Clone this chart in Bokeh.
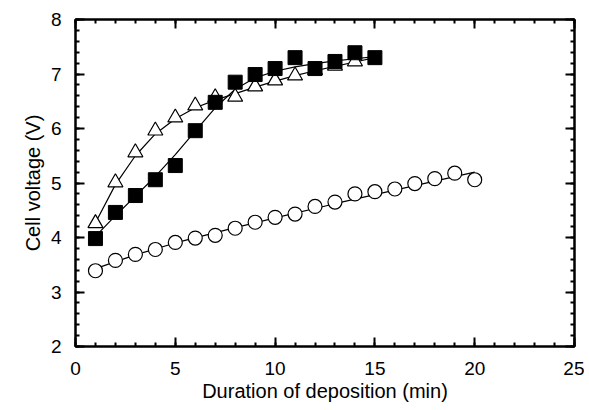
from bokeh.plotting import figure
from bokeh.models import LinearAxis, SingleIntervalTicker, Range1d, Title
from bokeh.embed import file_html
from bokeh.resources import INLINE

# Series: squares (filled), triangles (open), circles (open)
sq_x = [1, 2, 3, 4, 5, 6, 7, 8, 9, 10, 11, 12, 13, 14, 15]
sq_y = [3.98, 4.46, 4.77, 5.06, 5.32, 5.96, 6.48, 6.85, 6.99, 7.10, 7.30, 7.10, 7.23, 7.39, 7.30]

tri_x = [1, 2, 3, 4, 5, 6, 7, 8, 9, 10, 11, 12, 13, 14]
tri_y = [4.26, 5.01, 5.56, 5.96, 6.20, 6.42, 6.57, 6.58, 6.77, 6.88, 6.97, 7.07, 7.15, 7.23]

cir_x = [1, 2, 3, 4, 5, 6, 7, 8, 9, 10, 11, 12, 13, 14, 15, 16, 17, 18, 19, 20]
cir_y = [3.39, 3.58, 3.69, 3.78, 3.91, 3.99, 4.04, 4.17, 4.28, 4.37, 4.43, 4.57, 4.65,
         4.80, 4.84, 4.89, 4.99, 5.08, 5.18, 5.06]

# Fitted curves
sq_fit_x = [1, 2, 3, 4, 5, 6, 7, 8, 9, 10, 11, 12, 13, 14, 15]
sq_fit_y = [4.02, 4.40, 4.76, 5.12, 5.52, 5.95, 6.38, 6.72, 6.93, 7.05, 7.13, 7.19, 7.24, 7.28, 7.32]

tri_fit_x = [1, 2, 3, 4, 5, 6, 7, 8, 9, 10, 11, 12, 13, 14, 15]
tri_fit_y = [4.27, 4.97, 5.50, 5.90, 6.18, 6.38, 6.52, 6.64, 6.76, 6.87, 6.97, 7.06, 7.14, 7.22, 7.30]

cir_fit_x = [1, 3, 5, 8, 10, 13, 16, 20]
cir_fit_y = [3.43, 3.68, 3.90, 4.18, 4.36, 4.62, 4.87, 5.20]

x_major = [0, 5, 10, 15, 20, 25]
y_major = [2, 3, 4, 5, 6, 7, 8]

FONT = "Liberation Sans"

p = figure(frame_width=499, frame_height=327, output_backend="svg", toolbar_location=None,
           x_range=Range1d(0, 25), y_range=Range1d(2, 8),
           min_border_left=75, min_border_top=19, min_border_right=10, min_border_bottom=60)

p.xgrid.visible = False
p.ygrid.visible = False
p.outline_line_color = "black"
p.outline_line_width = 2
p.outline_line_alpha = 1.0
p.background_fill_color = "white"
p.border_fill_color = "white"


def style(ax):
    ax.axis_line_color = "black"
    ax.axis_line_width = 2
    ax.major_tick_in = 9
    ax.major_tick_out = 0
    ax.minor_tick_in = 4
    ax.minor_tick_out = 0
    ax.major_tick_line_width = 2
    ax.minor_tick_line_width = 2
    ax.major_tick_line_color = "black"
    ax.minor_tick_line_color = "black"
    ax.major_label_text_font = FONT
    ax.major_label_text_font_size = "19px"
    ax.major_label_text_color = "black"
    ax.axis_label_text_font = FONT
    ax.axis_label_text_font_size = "20px"
    ax.axis_label_text_font_style = "normal"
    ax.axis_label_text_color = "black"


p.xaxis.ticker = SingleIntervalTicker(interval=5, num_minor_ticks=5)
p.yaxis.ticker = SingleIntervalTicker(interval=1, num_minor_ticks=5)
style(p.xaxis[0])
style(p.yaxis[0])
p.xaxis.axis_label = "Duration of deposition (min)"
p.xaxis.major_label_standoff = 15
p.yaxis.major_label_standoff = 14
p.xaxis.axis_label_standoff = 2

ytitle = Title(text="Cell voltage (V)", align="center", offset=11,
               text_font=FONT, text_font_size="20px", text_font_style="normal",
               text_color="black", standoff=8)
p.add_layout(ytitle, "left")

top = LinearAxis(ticker=SingleIntervalTicker(interval=5, num_minor_ticks=5))
right = LinearAxis(ticker=SingleIntervalTicker(interval=1, num_minor_ticks=5))
style(top)
style(right)
top.major_label_overrides = {v: "" for v in x_major}
right.major_label_overrides = {v: "" for v in y_major}
top.major_label_standoff = 0
right.major_label_standoff = 0
p.add_layout(top, "above")
p.add_layout(right, "right")

# Fit lines
p.line(cir_fit_x, cir_fit_y, line_color="black", line_width=1.2)
p.line(tri_fit_x, tri_fit_y, line_color="black", line_width=1.2)
p.line(sq_fit_x, sq_fit_y, line_color="black", line_width=1.2)

# Markers
p.scatter(cir_x, cir_y, marker="circle", size=14, fill_color="white", line_color="black", line_width=1.2)
p.scatter(tri_x, tri_y, marker="triangle", size=15, fill_color="white", line_color="black", line_width=1.2)
p.scatter(sq_x, sq_y, marker="square", size=14, fill_color="black", line_color="black", line_width=1)

open("out.html", "w").write(file_html(p, INLINE))
